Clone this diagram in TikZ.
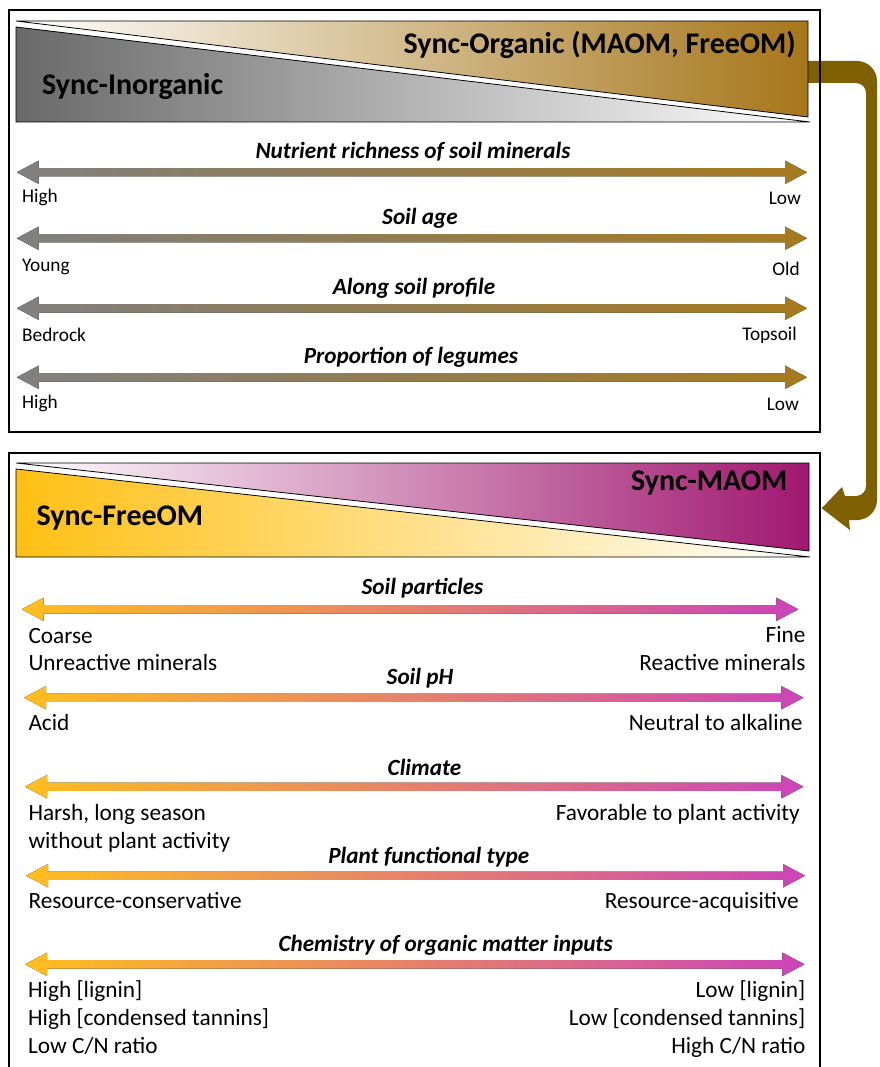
\documentclass[tikz,border=0pt]{standalone}
\usepackage{fontspec}
\setmainfont{Carlito}
\definecolor{brownR}{RGB}{166,118,26}
\definecolor{grayL}{RGB}{105,105,105}
\definecolor{magR}{RGB}{160,24,112}
\definecolor{orgL}{RGB}{255,192,20}
\definecolor{conn}{RGB}{127,96,0}
\definecolor{tArL}{RGB}{128,128,128}
\definecolor{tArR}{RGB}{166,122,30}
\definecolor{bArL}{RGB}{255,190,30}
\definecolor{bArM}{RGB}{230,140,128}
\definecolor{bArR}{RGB}{204,68,184}
\tikzset{
  frame/.style={draw=black, line width=1.8pt},
  tri/.style={draw=black, line width=0.8pt},
  bigt/.style={font=\fontsize{30}{32}\selectfont\bfseries, inner sep=0pt},
  ttl/.style={font=\fontsize{23.2}{26}\selectfont\bfseries\itshape, inner sep=0pt, anchor=base},
  tlbl/.style={font=\fontsize{19.3}{22}\selectfont, inner sep=0pt},
  blbl/.style={font=\fontsize{23.3}{26}\selectfont, inner sep=0pt},
  btl/.style={font=\fontsize{23.2}{26}\selectfont\bfseries\itshape, inner sep=0pt, anchor=base},
}
% double arrow: #1 x left tip, #2 x right tip, #3 y
\newcommand{\dblarr}[3]{%
  (#1,#3) -- ({#1+22},{#3-11.7}) -- ({#1+22},{#3-4.2}) -- ({#2-22},{#3-4.2}) -- ({#2-22},{#3-11.7})
  -- (#2,#3) -- ({#2-22},{#3+11.7}) -- ({#2-22},{#3+4.2}) -- ({#1+22},{#3+4.2}) -- ({#1+22},{#3+11.7}) -- cycle}
\begin{document}
\begin{tikzpicture}[x=1pt,y=-1pt]
\useasboundingbox (0,0) rectangle (879,1067);
% connector
\fill[conn] (806,61) -- (857,61) .. controls (868,61) and (877,70) .. (877,81)
  -- (877,500) .. controls (877,511) and (868,520) .. (857,520)
  -- (849,520) -- (850,530) -- (821.7,508.3) -- (842,487) -- (845,496)
  -- (856,496) .. controls (861.5,496) and (866,491.5) .. (866,486)
  -- (866,93) .. controls (866,87.5) and (861.5,83) .. (856,83)
  -- (806,83) -- cycle;
% frames
\draw[frame] (9,10) rectangle (820,432);
\draw[frame] (9,453) rectangle (820,1090);
% top triangles
\path[tri, left color=white, right color=brownR] (16,21) -- (808,21) -- (808,117) -- cycle;
\path[tri, left color=grayL, right color=white] (16,27) -- (16,122) -- (810,122) -- cycle;
\node[bigt, anchor=base east] (torg) at (796,53.3) {Sync-Organic (MAOM, FreeOM)};
\node[bigt, anchor=base west] (tinorg) at (42,95) {Sync-Inorganic};
% bottom triangles
\path[tri, left color=white, right color=magR] (16,463) -- (809,463) -- (809,551) -- cycle;
\path[tri, left color=orgL, right color=white] (16,469) -- (16,557) -- (810,557) -- cycle;
\node[bigt, anchor=base east] (bmaom) at (787.5,490) {Sync-MAOM};
\node[bigt, anchor=base west] (bfree) at (36.4,525) {Sync-FreeOM};
% top arrows
\foreach \yy in {172.3,238.3,308.3,377.3}{
  \fill[left color=tArL, right color=tArR] \dblarr{16.7}{807}{\yy};
}
\node[ttl] (t1) at (413,158.3) {Nutrient richness of soil minerals};
\node[ttl] (t2) at (420,224.3) {Soil age};
\node[ttl] (t3) at (414,294.3) {Along soil profile};
\node[ttl] (t4) at (411,363.3) {Proportion of legumes};
\node[tlbl, anchor=base west] (l1) at (22,202.7) {High};
\node[tlbl, anchor=base east] (r1) at (801,205) {Low};
\node[tlbl, anchor=base west] (l2) at (22,271.7) {Young};
\node[tlbl, anchor=base east] (r2) at (800,275) {Old};
\node[tlbl, anchor=base west] (l3) at (22,341.7) {Bedrock};
\node[tlbl, anchor=base east] (r3) at (797,340.7) {Topsoil};
\node[tlbl, anchor=base west] (l4) at (22,408.7) {High};
\node[tlbl, anchor=base east] (r4) at (799,410) {Low};
% bottom arrows
\fill[left color=bArL, middle color=bArM, right color=bArR] \dblarr{21.7}{798.3}{609.3};
\fill[left color=bArL, middle color=bArM, right color=bArR] \dblarr{24}{803.3}{697.7};
\fill[left color=bArL, middle color=bArM, right color=bArR] \dblarr{25}{803.3}{786.7};
\fill[left color=bArL, middle color=bArM, right color=bArR] \dblarr{26}{805}{875.7};
\fill[left color=bArL, middle color=bArM, right color=bArR] \dblarr{25}{804.4}{964.3};
\node[btl] (b1) at (422.5,594) {Soil particles};
\node[btl] (b2) at (420,684) {Soil pH};
\node[btl] (b3) at (424.5,775) {Climate};
\node[btl] (b4) at (428.8,863.3) {Plant functional type};
\node[btl] (b5) at (445.6,951.7) {Chemistry of organic matter inputs};
\node[blbl, anchor=base west] (bl1a) at (28.3,643.3) {Coarse};
\node[blbl, anchor=base west] (bl1b) at (28.3,670) {Unreactive minerals};
\node[blbl, anchor=base east] (br1a) at (805.7,642.7) {Fine};
\node[blbl, anchor=base east] (br1b) at (805.7,670) {Reactive minerals};
\node[blbl, anchor=base west] (bl2) at (28.3,730.7) {Acid};
\node[blbl, anchor=base east] (br2) at (802.7,730.7) {Neutral to alkaline};
\node[blbl, anchor=base west] (bl3a) at (28.3,820) {Harsh, long season};
\node[blbl, anchor=base west] (bl3b) at (28.3,848.3) {without plant activity};
\node[blbl, anchor=base east] (br3) at (800,820) {Favorable to plant activity};
\node[blbl, anchor=base west] (bl4) at (28.3,908.3) {Resource-conservative};
\node[blbl, anchor=base east] (br4) at (799,908.3) {Resource-acquisitive};
\node[blbl, anchor=base west] (bl5a) at (28,997.3) {High [lignin]};
\node[blbl, anchor=base west] (bl5b) at (28,1025.7) {High [condensed tannins]};
\node[blbl, anchor=base west] (bl5c) at (28,1053.3) {Low C/N ratio};
\node[blbl, anchor=base east] (br5a) at (805.5,997.3) {Low [lignin]};
\node[blbl, anchor=base east] (br5b) at (805.5,1025.7) {Low [condensed tannins]};
\node[blbl, anchor=base east] (br5c) at (805.5,1053.3) {High C/N ratio};
\end{tikzpicture}
\end{document}
